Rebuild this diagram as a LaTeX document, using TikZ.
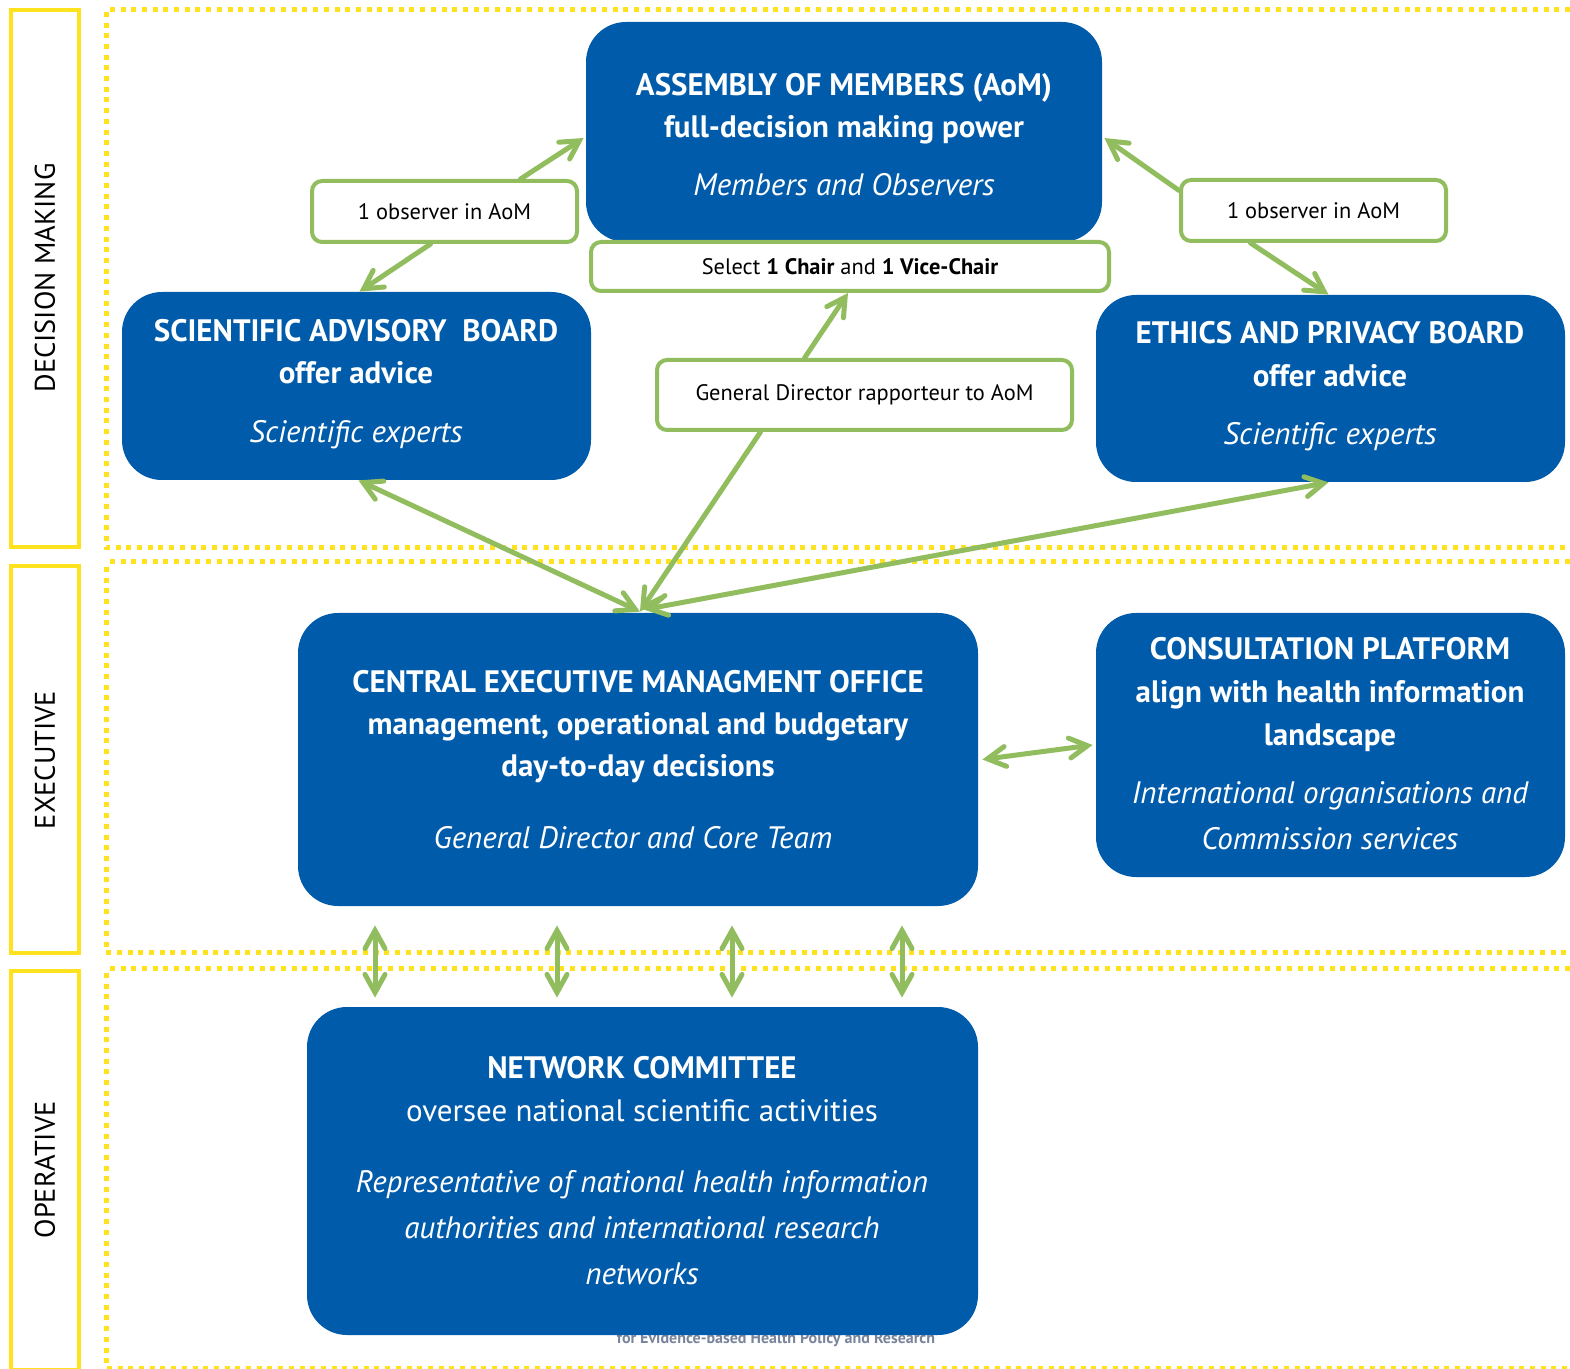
\documentclass[tikz,border=0pt]{standalone}
\usepackage{fontspec}
\setmainfont{PT Sans}
\usetikzlibrary{arrows.meta,fit,calc}
\definecolor{eublue}{RGB}{0,91,170}
\definecolor{agreen}{RGB}{146,189,94}
\definecolor{ayellow}{RGB}{255,226,30}
\definecolor{footgray}{RGB}{120,132,155}
\tikzset{
  bluebox/.style={fill=eublue, rounded corners=20pt, inner sep=0pt},
  gbox/.style={draw=agreen, line width=2pt, fill=white, rounded corners=5pt, inner sep=0pt},
  strip/.style={draw=ayellow, line width=2pt},
  dotline/.style={draw=ayellow, line width=2.5pt, dash pattern=on 2.5pt off 2.85pt},
  ttl/.style={anchor=base, text=white, font=\fontsize{15.5}{18}\selectfont\bfseries},
  sub/.style={anchor=base, text=white, font=\fontsize{15.5}{18}\selectfont},
  itl/.style={anchor=base, text=white, font=\fontsize{15.5}{18}\selectfont\itshape},
  small/.style={font=\fontsize{11.2}{13}\selectfont, text=black},
  sidelabel/.style={rotate=90, font=\fontsize{14.2}{16}\selectfont, text=black},
  garrow/.style={draw=agreen, line width=2.5pt, line cap=round, -{Straight Barb[length=9pt,width=10pt,line cap=round]}},
  garrow2/.style={draw=agreen, line width=2.5pt, line cap=round, {Straight Barb[length=9pt,width=10pt,line cap=round]}-{Straight Barb[length=9pt,width=10pt,line cap=round]}}
}
\begin{document}
\begin{tikzpicture}[x=0.5pt, y=-0.5pt]
\useasboundingbox (0,0) rectangle (1570,1369);
\fill[white] (0,0) rectangle (1570,1369);

% left strips
\draw[strip] (11,10) rectangle (79,547);
\draw[strip] (11,566) rectangle (79,953);
\draw[strip] (11,971) rectangle (79,1370);
\node[sidelabel] (lbl1) at (45,278) {DECISION MAKING};
\node[sidelabel] (lbl2) at (45,760) {EXECUTIVE};
\node[sidelabel] (lbl3) at (45,1170) {OPERATIVE};

% dotted regions
\draw[dotline] (1570,10) -- (106,10) -- (106,548) -- (1570,548);
\draw[dotline] (1570,562) -- (110,562);
\draw[dotline] (106,567) -- (106,952) -- (1570,952);
\draw[dotline] (1570,968) -- (110,968);
\draw[dotline] (106,973) -- (106,1368) -- (1570,1368);

% footer text behind network box
\node[anchor=base, text=footgray, font=\fontsize{8}{9}\selectfont\bfseries] (foot) at (776,1343) {for Evidence-based Health Policy and Research};

% blue boxes
\node[bluebox, fit={(586,22)(1102,242)}] (aom) {};
\node[bluebox, fit={(122,292)(591,480)}] (sab) {};
\node[bluebox, fit={(1096,295)(1565,482)}] (epb) {};
\node[bluebox, fit={(298,613)(978,906)}] (cemo) {};
\node[bluebox, fit={(1096,613)(1565,877)}] (cp) {};
\node[bluebox, fit={(307,1007)(978,1335)}] (nc) {};

% green label boxes
\node[gbox, fit={(591,242)(1109,291)}] (sel) {};
\node[small] (seltxt) at (sel.center) {Select \textbf{1 Chair} and \textbf{1 Vice-Chair}};
\node[gbox, fit={(312,181)(577,242)}] (obsL) {};
\node[small] (obsLtxt) at (obsL.center) {1 observer in AoM};
\node[gbox, fit={(1181,180)(1446,241)}] (obsR) {};
\node[small] (obsRtxt) at (obsR.center) {1 observer in AoM};
\node[gbox, fit={(657,360)(1072,430)}] (gd) {};
\node[small] (gdtxt) at (gd.center) {General Director rapporteur to AoM};

% texts in blue boxes
\node[ttl] (aom1) at (844,96) {ASSEMBLY OF MEMBERS (AoM)};
\node[ttl] (aom2) at (844,138) {full-decision making power};
\node[itl] (aom3) at (844,196) {Members and Observers};

\node[ttl] (sab1) at (356,342) {SCIENTIFIC ADVISORY\ \ BOARD};
\node[ttl] (sab2) at (356,384) {offer advice};
\node[itl] (sab3) at (356,443) {Scientific experts};

\node[ttl] (epb1) at (1330,344) {ETHICS AND PRIVACY BOARD};
\node[ttl] (epb2) at (1330,387) {offer advice};
\node[itl] (epb3) at (1330,445) {Scientific experts};

\node[ttl] (cemo1) at (638,692) {CENTRAL EXECUTIVE MANAGMENT OFFICE};
\node[ttl] (cemo2) at (638,734) {management, operational and budgetary};
\node[ttl] (cemo3) at (638,776) {day-to-day decisions};
\node[itl] (cemo4) at (633,848) {General Director and Core Team};

\node[ttl] (cp1) at (1330,660) {CONSULTATION PLATFORM};
\node[ttl] (cp2) at (1330,702) {align with health information};
\node[ttl] (cp3) at (1330,745) {landscape};
\node[itl] (cp4) at (1330,803) {International organisations and};
\node[itl] (cp5) at (1330,849) {Commission services};

\node[ttl] (nc1) at (642,1078) {NETWORK COMMITTEE};
\node[sub] (nc2) at (642,1121) {oversee national scientific activities};
\node[itl] (nc3) at (642,1192) {Representative of national health information};
\node[itl] (nc4) at (642,1238) {authorities and international research};
\node[itl] (nc5) at (642,1284) {networks};

% connectors
\draw[garrow] ($(obsL.north)+(76,0)$) -- ($(aom.west)+(-2,6)$);
\draw[garrow] ($(obsL.south)+(-14,0)$) -- ($(sab.north)+(3,0)$);
\draw[garrow] ($(obsR.west)+(0,-20)$) -- ($(aom.east)+(2,6)$);
\draw[garrow] ($(obsR.south)+(-63,0)$) -- ($(epb.north)+(-2,0)$);
\draw[garrow] ($(gd.north)+(-60,0)$) -- ($(sel.south)+(-2,0)$);
\draw[garrow] ($(gd.south)+(-104,0)$) -- ($(cemo.north)+(2,-1)$);
\draw[garrow2] ($(sab.south)+(2,0)$) -- ($(cemo.north)+(2,-1)$);
\draw[garrow2] ($(epb.south)+(-2,0)$) -- ($(cemo.north)+(6,-3)$);
\draw[garrow2] ($(cemo.east)+(4,0)$) -- ($(cp.west)+(-3,0)$);

\foreach \dx [count=\i] in {-263,-81,94,264} {
  \path ($(cemo.south)+(\dx,19)$) coordinate (va\i);
  \draw[garrow2, shorten >=4.5pt] (va\i) -- (nc.north -| va\i);
}
\end{tikzpicture}
\end{document}
